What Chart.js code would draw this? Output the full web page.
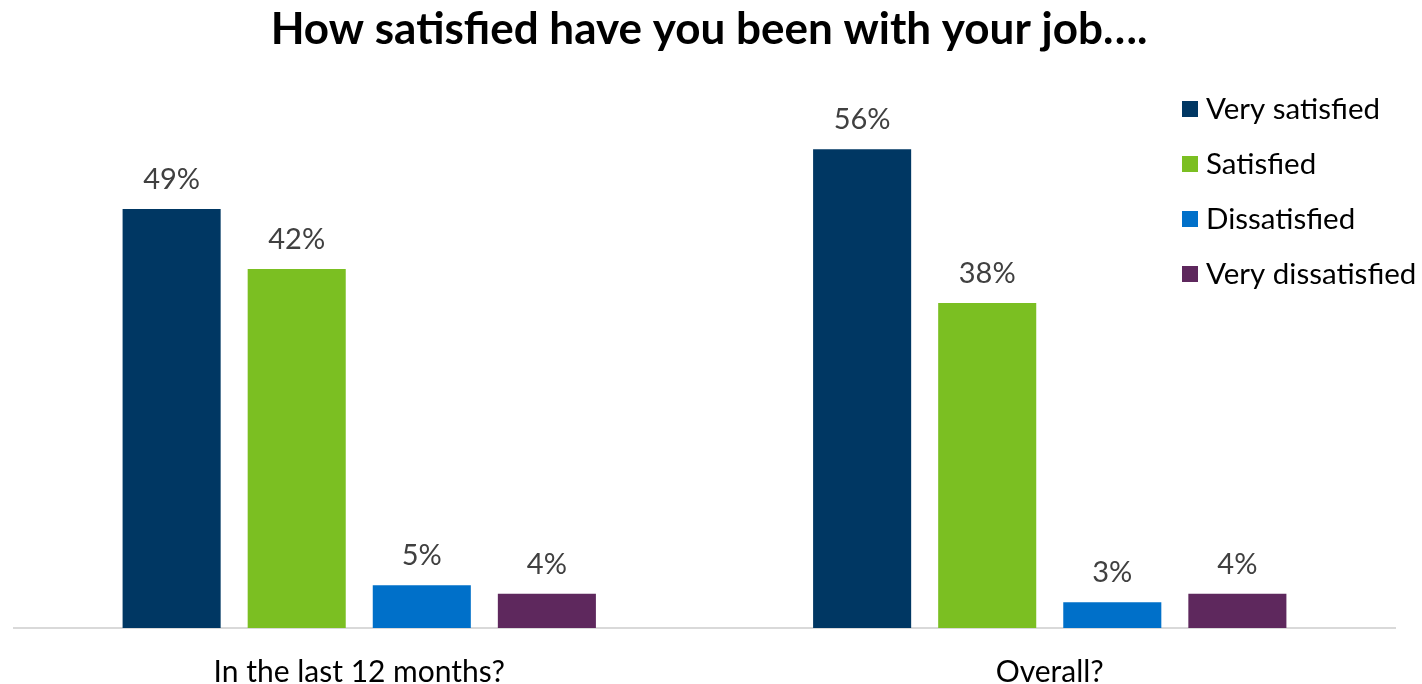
<!DOCTYPE html>
<html>
<head>
<meta charset="utf-8">
<script src="https://cdn.jsdelivr.net/npm/chart.js@4.4.1/dist/chart.umd.min.js"></script>
<style>
  html, body { margin: 0; padding: 0; background: #ffffff; overflow: hidden; }
  #wrap { width: 1422px; height: 684px; position: relative; }
</style>
</head>
<body>
<div id="wrap"><canvas id="c" width="1422" height="684"></canvas></div>
<script>
// Survey categories and answer series (percent of respondents)
const categories = ['In the last 12 months?', 'Overall?'];
const seriesNames = ['Very satisfied', 'Satisfied', 'Dissatisfied', 'Very dissatisfied'];
const verySatisfied = [49, 56];
const satisfied = [42, 38];
const dissatisfied = [5, 3];
const veryDissatisfied = [4, 4];
const seriesColors = ['#003763', '#7BBF22', '#0070C9', '#5E285D'];
const titleText = 'How satisfied have you been with your job….';
const yMin = 0;
const yMax = 60;

const FONT = 'Lato, "Open Sans", "Liberation Sans", sans-serif';
const seriesValues = [verySatisfied, satisfied, dissatisfied, veryDissatisfied];

// Title drawn centered above the plot
const titlePlugin = {
  id: 'titleText',
  afterDraw(chart) {
    const ctx = chart.ctx;
    ctx.save();
    ctx.font = 'bold 44px ' + FONT;
    ctx.fillStyle = '#000000';
    ctx.textAlign = 'center';
    ctx.textBaseline = 'alphabetic';
    ctx.fillText(titleText, chart.width / 2 - 2, 44);
    ctx.restore();
  }
};

// Percent labels above each bar
const valueLabels = {
  id: 'valueLabels',
  afterDatasetsDraw(chart) {
    const ctx = chart.ctx;
    ctx.save();
    ctx.font = '29px ' + FONT;
    ctx.fillStyle = '#404040';
    ctx.textAlign = 'center';
    ctx.textBaseline = 'alphabetic';
    chart.data.datasets.forEach((ds, di) => {
      chart.getDatasetMeta(di).data.forEach((bar, i) => {
        ctx.fillText(ds.data[i] + '%', bar.x, bar.y - 20);
      });
    });
    ctx.restore();
  }
};

// Legend stacked in the upper right corner
const sideLegend = {
  id: 'sideLegend',
  afterDraw(chart) {
    const ctx = chart.ctx;
    ctx.save();
    ctx.font = '29.5px ' + FONT;
    ctx.textAlign = 'left';
    ctx.textBaseline = 'middle';
    chart.data.datasets.forEach((ds, i) => {
      const cy = 109 + i * 55;
      ctx.fillStyle = ds.backgroundColor;
      ctx.fillRect(1182, cy - 8, 16, 16);
      ctx.fillStyle = '#000000';
      ctx.fillText(ds.label, 1206, cy);
    });
    ctx.restore();
  }
};

new Chart(document.getElementById('c'), {
  type: 'bar',
  data: {
    labels: categories,
    datasets: seriesNames.map((name, i) => ({
      label: name,
      data: seriesValues[i],
      backgroundColor: seriesColors[i],
      borderWidth: 0,
      categoryPercentage: 0.7246,
      barPercentage: 0.784
    }))
  },
  options: {
    responsive: false,
    animation: false,
    layout: { padding: { left: 14, right: 27, top: 115, bottom: 0 } },
    plugins: {
      legend: { display: false },
      title: { display: false },
      tooltip: { enabled: false }
    },
    scales: {
      x: {
        grid: { display: false, drawTicks: false },
        border: { display: true, color: '#d9d9d9', width: 2 },
        ticks: { color: '#000000', font: { family: FONT, size: 30 }, padding: 26 },
        afterFit(scale) { scale.height = 56; }
      },
      y: {
        display: false,
        min: yMin,
        max: yMax
      }
    }
  },
  plugins: [titlePlugin, valueLabels, sideLegend]
});
</script>
</body>
</html>
